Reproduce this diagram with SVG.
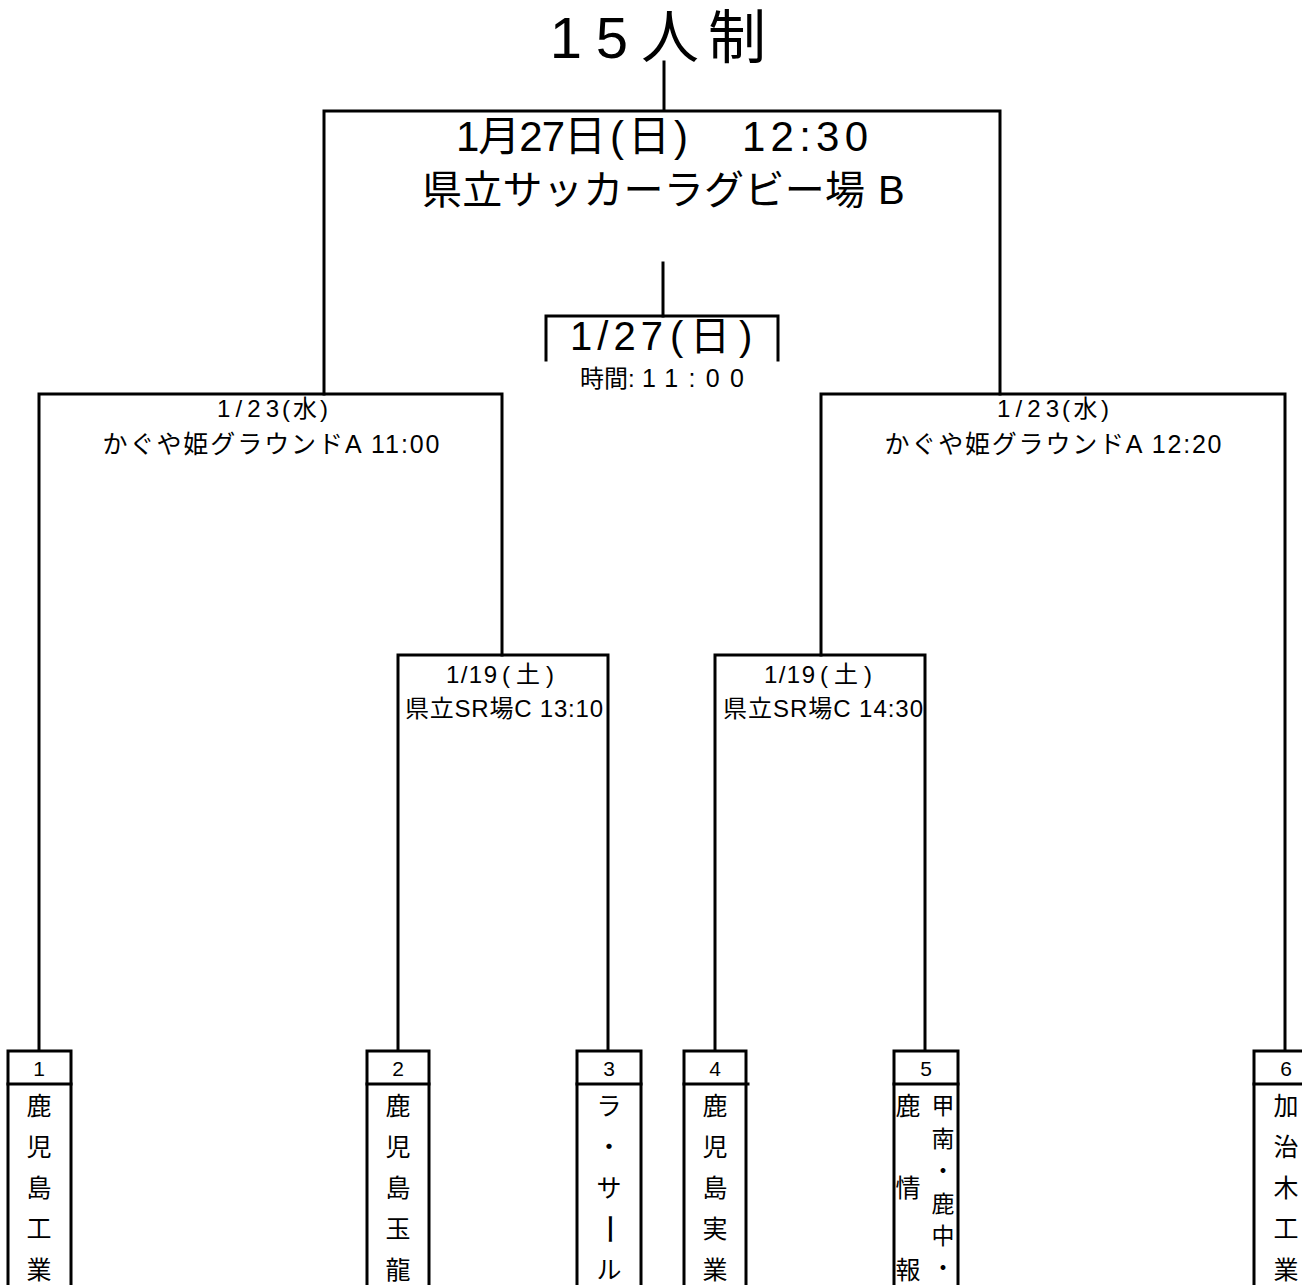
<svg xmlns="http://www.w3.org/2000/svg" width="1302" height="1285" viewBox="0 0 1302 1285">
<style>
  text { font-family: "Liberation Sans", "Noto Sans CJK JP", sans-serif; fill: #000; text-anchor: middle; dominant-baseline: central; }
  text.st { text-anchor: start; }
  .ln { fill: none; stroke: #000; stroke-width: 3; stroke-linecap: square; }
  .box { fill: #fff; stroke: #000; stroke-width: 3; }
  .num { font-size: 21px; }
  .ch { font-size: 25px; }
  .chs { font-size: 23px; }
  .mid { font-size: 24px; }
</style>
<rect width="1302" height="1285" fill="#fff"/>
<g id="connectors">
  <path class="ln" d="M664 62 V110"/>
  <path class="ln" d="M324 394 V111 H1000 V394"/>
  <path class="ln" d="M663 263 V316"/>
  <path class="ln" d="M546 360 V316 H778 V360"/>
  <path class="ln" d="M39 1051 V394 H502 V655"/>
  <path class="ln" d="M821 655 V394 H1285 V1051"/>
  <path class="ln" d="M398 1051 V655 H608 V1051"/>
  <path class="ln" d="M715 1051 V655 H925 V1051"/>
</g>
<g id="title">
  <text y="37" font-size="58"><tspan x="566">1</tspan><tspan x="612">5</tspan><tspan x="670">人</tspan><tspan x="737">制</tspan></text>
</g>
<g id="final">
  <text class="st" y="136" font-size="42"><tspan x="456" textLength="150" lengthAdjust="spacing">1月27日</tspan><tspan x="610" textLength="78" lengthAdjust="spacing">(日)</tspan><tspan x="742" textLength="126" lengthAdjust="spacing">12:30</tspan></text>
  <text class="st" y="190" font-size="40"><tspan x="422" textLength="443" lengthAdjust="spacing">県立サッカーラグビー場</tspan><tspan x="878">B</tspan></text>
</g>
<g id="third-place">
  <text class="st" y="336" font-size="40"><tspan x="570" textLength="93" lengthAdjust="spacing">1/27</tspan><tspan x="670">(</tspan><tspan x="690">日</tspan><tspan x="739">)</tspan></text>
  <text class="st" y="378" font-size="24"><tspan x="580">時間:</tspan><tspan x="642" font-size="25" textLength="102" lengthAdjust="spacing">11:00</tspan></text>
</g>
<g id="semi-left">
  <text class="st" y="408" font-size="24"><tspan x="217" textLength="62" lengthAdjust="spacing">1/23</tspan><tspan x="282" textLength="46" lengthAdjust="spacing">(水)</tspan></text>
  <text x="271" y="444" font-size="25" textLength="337" lengthAdjust="spacing">かぐや姫グラウンドA  11:00</text>
</g>
<g id="semi-right">
  <text class="st" y="408" font-size="24"><tspan x="997" textLength="62" lengthAdjust="spacing">1/23</tspan><tspan x="1062" textLength="47" lengthAdjust="spacing">(水)</tspan></text>
  <text x="1053" y="444" font-size="25" textLength="337" lengthAdjust="spacing">かぐや姫グラウンドA  12:20</text>
</g>
<g id="qf-left">
  <text class="st" y="674" font-size="24"><tspan x="446" textLength="51" lengthAdjust="spacing">1/19</tspan><tspan x="502" textLength="52" lengthAdjust="spacing">(土)</tspan></text>
  <text x="504" y="708" class="mid" textLength="198" lengthAdjust="spacing">県立SR場C 13:10</text>
</g>
<g id="qf-right">
  <text class="st" y="674" font-size="24"><tspan x="764" textLength="51" lengthAdjust="spacing">1/19</tspan><tspan x="820" textLength="52" lengthAdjust="spacing">(土)</tspan></text>
  <text x="823" y="708" class="mid" textLength="200" lengthAdjust="spacing">県立SR場C 14:30</text>
</g>
<g id="team1">
  <rect class="box" x="8" y="1051" width="63" height="240"/>
  <path class="ln" d="M8 1084 H71"/>
  <text x="39" y="1068" class="num">1</text>
  <text x="39" y="1106" class="ch">鹿</text>
  <text x="39" y="1147" class="ch">児</text>
  <text x="39" y="1188" class="ch">島</text>
  <text x="39" y="1229" class="ch">工</text>
  <text x="39" y="1270" class="ch">業</text>
</g>
<g id="team2">
  <rect class="box" x="367" y="1051" width="62" height="240"/>
  <path class="ln" d="M367 1084 H429"/>
  <text x="398" y="1068" class="num">2</text>
  <text x="398" y="1106" class="ch">鹿</text>
  <text x="398" y="1147" class="ch">児</text>
  <text x="398" y="1188" class="ch">島</text>
  <text x="398" y="1229" class="ch">玉</text>
  <text x="398" y="1270" class="ch">龍</text>
</g>
<g id="team3">
  <rect class="box" x="577" y="1051" width="64" height="240"/>
  <path class="ln" d="M577 1084 H641"/>
  <text x="609" y="1068" class="num">3</text>
  <text x="609" y="1106" class="ch">ラ</text>
  <text x="609" y="1147" class="ch">・</text>
  <text x="609" y="1188" class="ch">サ</text>
  <text x="609" y="1229" font-size="32" transform="rotate(90 609 1229)">ー</text>
  <text x="609" y="1270" class="ch">ル</text>
</g>
<g id="team4">
  <rect class="box" x="684" y="1051" width="62" height="240"/>
  <path class="ln" d="M684 1084 H748"/>
  <text x="715" y="1068" class="num">4</text>
  <text x="715" y="1106" class="ch">鹿</text>
  <text x="715" y="1147" class="ch">児</text>
  <text x="715" y="1188" class="ch">島</text>
  <text x="715" y="1229" class="ch">実</text>
  <text x="715" y="1270" class="ch">業</text>
</g>
<g id="team5">
  <rect class="box" x="894" y="1051" width="64" height="240"/>
  <path class="ln" d="M894 1084 H958"/>
  <text x="926" y="1068" class="num">5</text>
  <text x="908" y="1106" class="ch">鹿</text>
  <text x="908" y="1188" class="ch">情</text>
  <text x="908" y="1270" class="ch">報</text>
  <text x="943" y="1106" class="chs">甲</text>
  <text x="943" y="1139" class="chs">南</text>
  <text x="943" y="1171" class="chs">・</text>
  <text x="943" y="1204" class="chs">鹿</text>
  <text x="943" y="1236" class="chs">中</text>
  <text x="943" y="1268" class="chs">・</text>
</g>
<g id="team6">
  <rect class="box" x="1254" y="1051" width="64" height="240"/>
  <path class="ln" d="M1254 1084 H1318"/>
  <text x="1286" y="1068" class="num">6</text>
  <text x="1286" y="1106" class="ch">加</text>
  <text x="1286" y="1147" class="ch">治</text>
  <text x="1286" y="1188" class="ch">木</text>
  <text x="1286" y="1229" class="ch">工</text>
  <text x="1286" y="1270" class="ch">業</text>
</g>
</svg>
